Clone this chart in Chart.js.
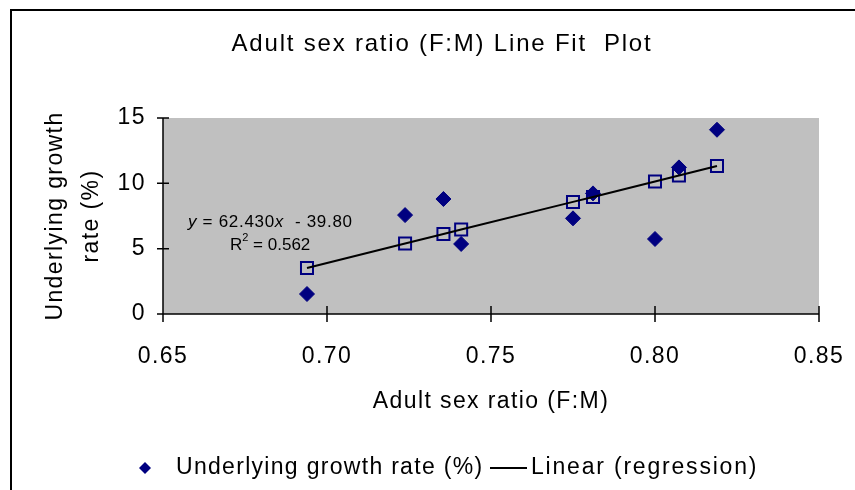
<!DOCTYPE html>
<html><head><meta charset="utf-8">
<script src="https://cdn.jsdelivr.net/npm/chart.js@4/dist/chart.umd.min.js"></script>
<style>html,body{margin:0;padding:0;background:#fff}#wrap{width:855px;height:490px;position:relative}</style>
</head><body><div id="wrap"><canvas id="c" width="855" height="490"></canvas></div>
<script>
const chartTitle = 'Adult sex ratio (F:M) Line Fit  Plot';
const xAxisTitle = 'Adult sex ratio (F:M)';
const yAxisTitle = ['Underlying growth', 'rate (%)'];
const sexRatio = [0.6939, 0.7238, 0.7355, 0.7409, 0.7750, 0.7811, 0.8000, 0.8073, 0.8189];
const growthRate = [1.53, 7.57, 8.80, 5.36, 7.32, 9.23, 5.74, 11.22, 14.10];
const predictedGrowth = [3.52, 5.39, 6.12, 6.46, 8.58, 8.96, 10.14, 10.60, 11.32];
const xTicks = [0.65, 0.70, 0.75, 0.80, 0.85];
const yTicks = [0, 5, 10, 15];
const legendLabels = ['Underlying growth rate (%)', 'Linear (regression)'];
const eqSlope = '62.430';
const eqIntercept = '39.80';
const eqR2 = '0.562';

const FONT = "'Liberation Sans', Arial, sans-serif";
const NAVY = '#000080';
const SPACING = '1.4px';

const frame = {
  id: 'frame',
  beforeLayout(chart) { chart.ctx.letterSpacing = SPACING; },
  beforeDraw(chart) {
    const {ctx, chartArea: a} = chart;
    ctx.letterSpacing = SPACING;
    ctx.save();
    ctx.fillStyle = '#c0c0c0';
    ctx.fillRect(a.left, a.top, a.right - a.left, a.bottom - a.top);
    ctx.strokeStyle = '#000';
    ctx.lineWidth = 2;
    ctx.beginPath();
    ctx.moveTo(11, 490); ctx.lineTo(11, 10); ctx.lineTo(855, 10);
    ctx.stroke();
    // title
    ctx.fillStyle = '#000';
    ctx.font = "24px " + FONT;
    ctx.letterSpacing = '1.8px';
    ctx.textAlign = 'center'; ctx.textBaseline = 'middle';
    ctx.fillText(chartTitle, 442, 44);
    ctx.restore();
  },
  beforeDatasetsDraw(chart) {
    const {ctx, chartArea: a, scales: {x, y}} = chart;
    ctx.save();
    ctx.strokeStyle = '#000';
    ctx.lineWidth = 1.5;
    ctx.beginPath();
    ctx.moveTo(a.left, a.top); ctx.lineTo(a.left, a.bottom); ctx.lineTo(a.right, a.bottom);
    yTicks.forEach(v => { const p = y.getPixelForValue(v); ctx.moveTo(a.left - 6, p); ctx.lineTo(a.left + 6, p); });
    xTicks.forEach(v => { const p = x.getPixelForValue(v); ctx.moveTo(p, a.bottom - 8); ctx.lineTo(p, a.bottom + 8); });
    ctx.stroke();
    ctx.restore();
  },
  afterDraw(chart) {
    const {ctx} = chart;
    ctx.save();
    ctx.fillStyle = '#000';
    ctx.textBaseline = 'middle';
    ctx.textAlign = 'left';
    // regression equation
    const f = "17px " + FONT, fi = "italic 17px " + FONT;
    ctx.letterSpacing = '0.7px';
    let px = 188, py = 222;
    const parts = [[fi, 'y'], [f, ' = ' + eqSlope], [fi, 'x'], [f, '  - ' + eqIntercept]];
    parts.forEach(([font, t]) => { ctx.font = font; ctx.fillText(t, px, py); px += ctx.measureText(t).width; });
    ctx.letterSpacing = '0px';
    px = 230; py = 245;
    ctx.font = f; ctx.fillText('R', px, py); px += ctx.measureText('R').width;
    ctx.font = "11px " + FONT; ctx.fillText('2', px, py - 7); px += ctx.measureText('2').width;
    ctx.font = f; ctx.fillText(' = ' + eqR2, px, py);
    // legend
    const ly = 468;
    ctx.fillStyle = NAVY;
    ctx.beginPath();
    ctx.moveTo(145, ly - 6); ctx.lineTo(151, ly); ctx.lineTo(145, ly + 6); ctx.lineTo(139, ly);
    ctx.closePath(); ctx.fill();
    ctx.fillStyle = '#000';
    ctx.font = "23px " + FONT;
    ctx.letterSpacing = '1.3px';
    ctx.fillText(legendLabels[0], 176, ly);
    ctx.strokeStyle = '#000'; ctx.lineWidth = 2;
    ctx.beginPath(); ctx.moveTo(490, ly); ctx.lineTo(527, ly); ctx.stroke();
    ctx.letterSpacing = '1.8px';
    ctx.fillText(legendLabels[1], 531, ly);
    ctx.restore();
  }
};

const pts = (ys) => sexRatio.map((x, i) => ({x, y: ys[i]}));

new Chart(document.getElementById('c'), {
  type: 'scatter',
  data: {
    datasets: [
      { label: legendLabels[1], data: pts(predictedGrowth), showLine: true, borderColor: '#000', borderWidth: 2,
        pointRadius: 0, fill: false, order: 0 },
      { label: 'Predicted', data: pts(predictedGrowth), showLine: false, pointStyle: 'rect', pointRadius: 8.5,
        pointBackgroundColor: 'rgba(0,0,0,0)', pointBorderColor: NAVY, pointBorderWidth: 2, order: 1 },
      { label: legendLabels[0], data: pts(growthRate), showLine: false, pointStyle: 'rectRot', pointRadius: 7.5,
        pointBackgroundColor: NAVY, pointBorderColor: NAVY, pointBorderWidth: 1, order: 2 }
    ]
  },
  options: {
    responsive: false, animation: false, devicePixelRatio: 1,
    layout: {padding: {left: 0, right: 36, top: 118, bottom: 0}},
    plugins: {
      legend: {display: false}, tooltip: {enabled: false}, title: {display: false}
    },
    scales: {
      x: {
        type: 'linear', min: 0.65, max: 0.85,
        afterBuildTicks: s => { s.ticks = xTicks.map(v => ({value: v})); },
        afterFit: s => { s.height = 176; s.paddingLeft = 0; s.paddingRight = 0; },
        grid: {display: false, drawTicks: false, tickLength: 0}, border: {display: false},
        ticks: {color: '#000', font: {family: FONT, size: 23}, padding: 29, maxRotation: 0, autoSkip: false,
          callback: v => Number(v).toFixed(2)},
        title: {display: true, text: xAxisTitle, color: '#000', font: {family: FONT, size: 23}, padding: {top: 0, bottom: 75}}
      },
      y: {
        type: 'linear', min: 0, max: 15,
        afterBuildTicks: s => { s.ticks = yTicks.map(v => ({value: v})); },
        afterFit: s => { s.width = 163; s.paddingTop = 0; s.paddingBottom = 0; },
        grid: {display: false, drawTicks: false, tickLength: 0}, border: {display: false},
        ticks: {color: '#000', font: {family: FONT, size: 23}, padding: 17, autoSkip: false},
        title: {display: true, text: yAxisTitle, color: '#000', font: {family: FONT, size: 23, lineHeight: 1.55}, padding: {top: 38, bottom: 0}}
      }
    }
  },
  plugins: [frame]
});
</script>
</body></html>
